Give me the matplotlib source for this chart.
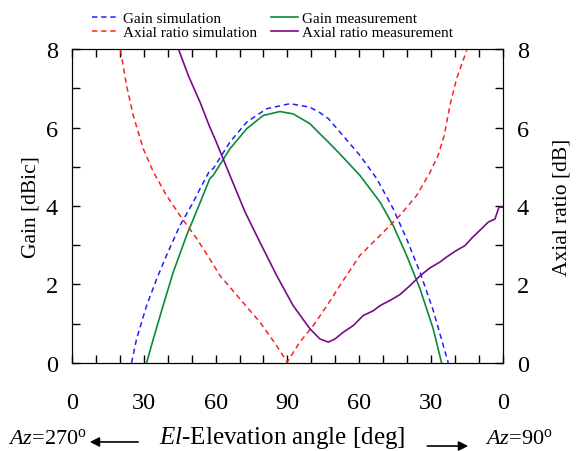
import numpy as np
import matplotlib
matplotlib.use("Agg")
import matplotlib.pyplot as plt
from matplotlib.patches import FancyArrowPatch
from matplotlib.ticker import MultipleLocator

plt.rcParams['font.family'] = ['Liberation Serif', 'DejaVu Serif']
plt.rcParams['mathtext.fontset'] = 'custom'
plt.rcParams['mathtext.rm'] = 'Liberation Serif'
plt.rcParams['mathtext.it'] = 'Liberation Serif:italic'

# angle axis runs 0 (Az=270) -> 90 (zenith) -> 180 (Az=90)
gain_sim_x = [24.9, 27.0, 31.2, 35.4, 39.5, 45.1, 50.7, 53.5, 57.6, 59.0, 66.0, 73.0, 81.3, 91.1,
              99.4, 103.6, 107.1, 111.9, 120.3, 127.3, 134.2, 139.8, 145.4, 150.9, 157.2]
gain_sim_y = [0.0, 0.61, 1.46, 2.14, 2.74, 3.50, 4.10, 4.44, 4.91, 4.95, 5.63, 6.14, 6.48, 6.61,
              6.52, 6.38, 6.23, 5.89, 5.29, 4.70, 3.93, 3.16, 2.31, 1.34, 0.0]

gain_meas_x = [31.2, 34.0, 38.1, 42.3, 47.9, 53.5, 57.6, 59.0, 66.0, 73.0, 79.9, 86.9, 92.4, 99.4,
               103.6, 107.1, 111.9, 120.3, 128.7, 134.2, 139.8, 145.4, 150.9, 154.4]
gain_meas_y = [0.0, 0.61, 1.46, 2.31, 3.25, 4.08, 4.70, 4.78, 5.46, 5.97, 6.31, 6.41, 6.35, 6.10,
               5.84, 5.63, 5.33, 4.78, 4.10, 3.50, 2.74, 1.89, 0.87, 0.0]

ar_sim_x = [20.3, 22.8, 25.6, 29.8, 34.0, 39.5, 45.1, 52.1, 57.6, 61.8, 70.2, 78.5, 85.5, 89.9,
            95.2, 100.8, 107.1, 111.9, 120.3, 128.7, 137.0, 144.0, 149.5, 153.0, 155.5, 157.9, 160.7, 164.9]
ar_sim_y = [7.97, 7.08, 6.31, 5.46, 4.87, 4.27, 3.76, 3.17, 2.65, 2.23, 1.63, 1.04, 0.44, 0.02,
            0.53, 0.95, 1.51, 1.97, 2.74, 3.25, 3.76, 4.27, 4.85, 5.30, 5.80, 6.57, 7.25, 7.97]

ar_meas_x = [44.7, 48.6, 53.5, 57.6, 59.7, 66.0, 72.3, 78.5, 85.5, 92.4, 99.4, 103.6, 107.1, 109.9,
             113.3, 117.5, 121.7, 125.9, 128.7, 132.8, 137.0, 141.2, 145.4, 149.5, 153.7, 156.5,
             160.7, 164.2, 167.0, 170.4, 173.9, 176.7, 178.4, 180.0]
ar_meas_y = [7.97, 7.33, 6.65, 6.01, 5.72, 4.78, 3.85, 3.08, 2.23, 1.46, 0.87, 0.61, 0.53, 0.61,
             0.78, 0.95, 1.21, 1.33, 1.46, 1.59, 1.74, 1.97, 2.22, 2.42, 2.57, 2.70,
             2.87, 2.99, 3.18, 3.38, 3.59, 3.67, 3.97, 3.97]

xtick_pos = [0, 30, 60, 90, 120, 150, 180]
xtick_lab = ['0', '30', '60', '90', '60', '30', '0']

fig = plt.figure(figsize=(5.8, 4.52), dpi=100)
ax = fig.add_axes([0.124, 0.195, 0.743, 0.694])
ax2 = ax.twinx()

dash = (0, (3.5, 2.5))
l1, = ax.plot(gain_sim_x, gain_sim_y, color='#1f1fff', lw=1.1, linestyle=dash, label='Gain simulation')
l3, = ax.plot(gain_meas_x, gain_meas_y, color='#0b8a3c', lw=1.2, label='Gain measurement')
l2, = ax2.plot(ar_sim_x, ar_sim_y, color='#ff2020', lw=1.1, linestyle=dash, label='Axial ratio simulation')
l4, = ax2.plot(ar_meas_x, ar_meas_y, color='#7a0a8a', lw=1.2, label='Axial ratio measurement')

for a in (ax, ax2):
    a.set_xlim(0, 180)
    a.set_ylim(0, 8)
    a.yaxis.set_major_locator(MultipleLocator(2))
    a.yaxis.set_minor_locator(MultipleLocator(1))
    a.tick_params(which='both', direction='in', length=5.5, width=1, labelsize=17.5)

ax.set_xticks(xtick_pos)
ax.set_xticklabels(xtick_lab)
ax.xaxis.set_minor_locator(MultipleLocator(10))
ax.tick_params(axis='x', which='both', top=True, pad=21)
ax.tick_params(axis='y', which='both', pad=10)
ax2.tick_params(axis='y', which='both', pad=10)

ax.set_ylabel('Gain [dBic]', fontsize=15.5, labelpad=4)
ax2.set_ylabel('Axial ratio [dB]', fontsize=15.5, labelpad=17)

fig.legend(handles=[l1, l2, l3, l4], ncol=2, frameon=False, fontsize=11,
           loc='upper left', bbox_to_anchor=(0.158, 0.972), borderaxespad=0, borderpad=0,
           handlelength=1.75, handletextpad=0.3, columnspacing=0.9, labelspacing=0.0)

# axis caption with azimuth markers and arrows
fig.text(0.487, 0.0175, r'$El$-Elevation angle [deg]', ha='center', va='baseline', fontsize=18)
fig.text(0.013, 0.0175, r'$Az$=270$^{\mathrm{o}}$', ha='left', va='baseline', fontsize=16)
fig.text(0.953, 0.0175, r'$Az$=90$^{\mathrm{o}}$', ha='right', va='baseline', fontsize=16)
arrow_kw = dict(arrowstyle='-|>', color='black', lw=1.2, mutation_scale=14)
fig.add_artist(FancyArrowPatch((0.243, 0.02), (0.150, 0.02),
               transform=fig.transFigure, **arrow_kw))
fig.add_artist(FancyArrowPatch((0.732, 0.011), (0.812, 0.011),
               transform=fig.transFigure, **arrow_kw))

fig.savefig('out.png', dpi=100)
